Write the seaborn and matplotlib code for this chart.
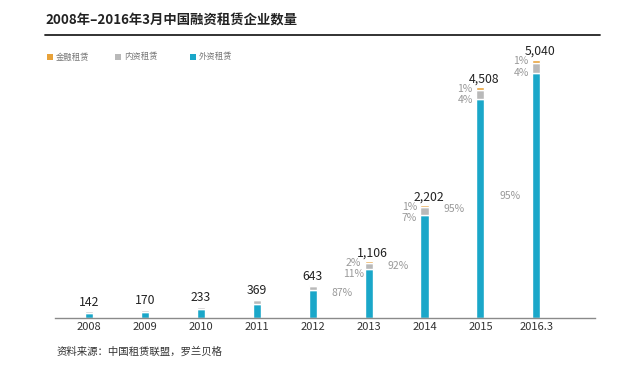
import pandas as pd
import matplotlib.pyplot as plt
import seaborn as sns

# data
years = ["2008", "2009", "2010", "2011", "2012", "2013", "2014", "2015", "2016.3"]
totals = [142, 170, 233, 369, 643, 1106, 2202, 4508, 5040]
finance = [12, 12, 17, 20, 20, 23, 30, 47, 50]
domestic = [37, 45, 45, 66, 80, 123, 152, 190, 205]
foreign = [93, 113, 171, 283, 543, 960, 2020, 4271, 4785]
pct_foreign = [None, None, None, None, None, "87%", "92%", "95%", "95%"]
pct_domestic = [None, None, None, None, None, "11%", "7%", "4%", "4%"]
pct_finance = [None, None, None, None, None, "2%", "1%", "1%", "1%"]
total_labels = ["142", "170", "233", "369", "643", "1,106", "2,202", "4,508", "5,040"]

df = pd.DataFrame({"year": years, "foreign": foreign, "domestic": domestic, "finance": finance})
df["fd"] = df["foreign"] + df["domestic"]

c_fin = "#e8a23a"
c_dom = "#b9b9b9"
c_for = "#1aa7c9"

sns.set_style("white")
plt.rcParams["font.family"] = ["Noto Sans CJK SC", "DejaVu Sans"]

fig = plt.figure(figsize=(6.4, 3.73), dpi=100)
ax = fig.add_axes([55 / 640, 55 / 373, 540 / 640, 278 / 373])

bw = 0.145
sns.barplot(data=df, x="year", y="foreign", color=c_for, width=bw, saturation=1, ax=ax)
sns.barplot(data=df, x="year", y="domestic", bottom=df["foreign"], color=c_dom, width=bw, saturation=1, ax=ax)
sns.barplot(data=df, x="year", y="finance", bottom=df["fd"], color=c_fin, width=bw, saturation=1, ax=ax)

ax.set_xlim(-0.61, 9.05)
ax.set_ylim(0, 5431)
for s in ["top", "right", "left"]:
    ax.spines[s].set_visible(False)
ax.spines["bottom"].set_color("#8a8a8a")
ax.spines["bottom"].set_linewidth(1.0)
ax.set_yticks([])
ax.set_xlabel("")
ax.set_ylabel("")
ax.tick_params(axis="x", length=0, pad=3, labelsize=8, labelcolor="#333333")

# totals on top of bars
for i, t in enumerate(total_labels):
    dx = 3 if i >= 5 else 0
    ax.annotate(t, (i, totals[i]), xytext=(dx, 1.5), textcoords="offset points",
                ha="center", va="bottom", fontsize=8.8, color="#222222")

# share labels
for i in range(len(years)):
    if pct_foreign[i] is None:
        continue
    ax.annotate(pct_foreign[i], (i, foreign[i] * 0.5),
                xytext=(-19, 0), textcoords="offset points",
                ha="center", va="center", fontsize=7.5, color="#999999")
    ax.annotate(pct_domestic[i], (i, totals[i]), xytext=(-11, -9), textcoords="offset points",
                ha="center", va="center", fontsize=7.5, color="#999999")
    ax.annotate(pct_finance[i], (i, totals[i]), xytext=(-11, -1), textcoords="offset points",
                ha="center", va="center", fontsize=7.5, color="#999999")

# title and rule
fig.text(45 / 640, 1 - 20 / 373, "2008年–2016年3月中国融资租赁企业数量",
         fontsize=9.6, fontweight="bold", color="#222222", va="center", ha="left")
fig.add_artist(plt.Line2D([45 / 640, 600 / 640], [1 - 35 / 373, 1 - 35 / 373],
                          color="#222222", linewidth=1.3))

# legend
legend_items = [("金融租赁", c_fin, 47), ("内资租赁", c_dom, 115), ("外资租赁", c_for, 190)]
for name, col, px in legend_items:
    fig.patches.append(plt.Rectangle((px / 640, 1 - 60 / 373), 6 / 640, 6 / 373,
                                     transform=fig.transFigure, facecolor=col, edgecolor="none"))
    fig.text((px + 9) / 640, 1 - 57 / 373, name, fontsize=6, color="#777777", va="center", ha="left")

# source
fig.text(57 / 640, 1 - 352 / 373, "资料来源：中国租赁联盟，罗兰贝格",
         fontsize=7.5, color="#333333", va="center", ha="left")

fig.savefig("out.png", dpi=100)
